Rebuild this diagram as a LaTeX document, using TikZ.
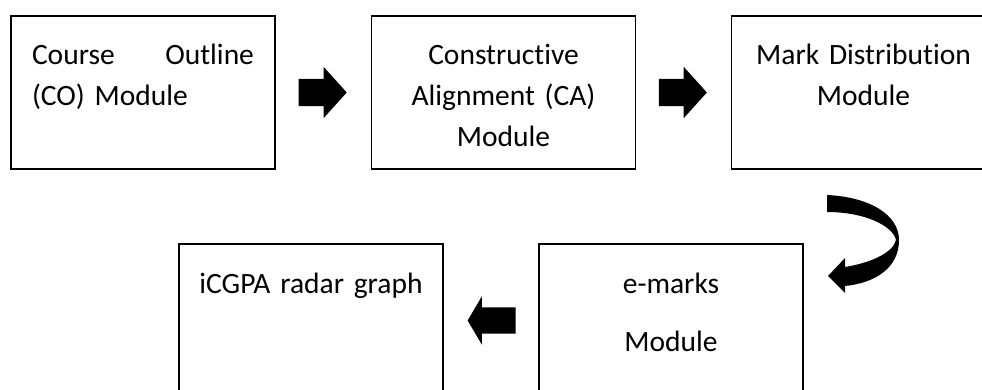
\documentclass[tikz,border=0pt]{standalone}
\usepackage{fontspec}
\setmainfont{Carlito}[Ligatures=NoCommon]
\usetikzlibrary{shapes.arrows, calc}

\tikzset{
  module/.style={draw, rectangle, line width=1.6pt, text width=244pt, inner xsep=10pt, inner ysep=0pt,
    text height=49pt, text depth=104pt, align=center, font=\fontsize{29.5}{41}\selectfont},
  fatarrow/.style={single arrow, fill=black, inner xsep=0pt, inner ysep=13.5pt, minimum height=48pt,
    single arrow head extend=12pt, single arrow tip angle=96, anchor=tip},
}

\begin{document}
\begin{tikzpicture}[x=1pt, y=-1pt]
    \clip (0,0) rectangle (982,390);

    \node (co) [module, text width=222pt, inner xsep=21pt, align=left] at (143, 92.5) {Course \hfill Outline\\(CO) Module};
    \node (ca) [module] at (503.5, 92.5) {Constructive\\Alignment (CA)\\Module};
    \node (md) [module] at (863.5, 92.5) {Mark Distribution\\Module};
    \node (em) [module] at (671, 320.5) {e-marks\\[17pt]Module};
    \node (rg) [module] at (311, 320.5) {iCGPA radar graph};

    \node (ar1) [fatarrow] at ($(co.east)!0.75!(ca.west)$) {};
    \node (ar2) [fatarrow] at ($(ca.east)!0.75!(md.west)$) {};
    \node (ar3) [fatarrow, inner ysep=13pt, single arrow head extend=11pt, single arrow tip angle=119,
        shape border rotate=180] at ($(em.west)!0.75!(rg.east)$) {};

    % curved arrow down to the e-marks module
    \fill (827,195) .. controls (870,197) and (899,215) .. (899,240)
        .. controls (899,268) and (875,283) .. (845,286)
        -- (845,293) -- (828,276) -- (845,258) -- (845,267)
        .. controls (870,263) and (893,253) .. (896,240)
        .. controls (893,226) and (865,212) .. (827,212) -- cycle;
\end{tikzpicture}
\end{document}
